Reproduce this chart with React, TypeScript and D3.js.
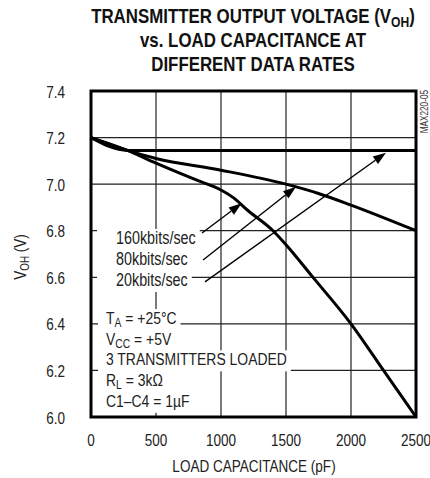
import { useEffect, useRef } from 'react';
import * as d3 from 'd3';

// axis ticks
const capTicks = [0, 500, 1000, 1500, 2000, 2500];
const voltTicks = [6.0, 6.2, 6.4, 6.6, 6.8, 7.0, 7.2, 7.4];

// curves (pF -> V)
const cap20 = [0, 280, 2500];
const voh20 = [7.2, 7.145, 7.145];
const cap80 = [0, 280, 500, 1000, 1500, 1750, 2000, 2500];
const voh80 = [7.2, 7.145, 7.11, 7.06, 7.0, 6.96, 6.91, 6.8];
const cap160 = [0, 280, 500, 800, 1000, 1100, 1200, 1400, 1500, 1700, 2000, 2250, 2500];
const voh160 = [7.2, 7.145, 7.09, 7.02, 6.975, 6.94, 6.89, 6.8, 6.74, 6.605, 6.4, 6.2, 6.0];

const rateLabels = ['160kbits/sec', '80kbits/sec', '20kbits/sec'];
// pointer arrows, label end -> curve, in data units
const arrowFrom: [number, number][] = [[854, 6.79], [862, 6.674], [877, 6.58]];
const arrowTo: [number, number][] = [[1159, 6.918], [1577, 6.989], [2269, 7.135]];

// condition lines: [text, subscript, rest]
const condLines: [string, string, string][] = [
  ['T', 'A', ' = +25°C'],
  ['V', 'CC', ' = +5V'],
  ['3 TRANSMITTERS LOADED', '', ''],
  ['R', 'L', ' = 3kΩ'],
  ['C1–C4 = 1µF', '', ''],
];

// Helvetica Narrow look: Arial-metric font squeezed horizontally
const FONT = '"Liberation Sans", Arial, Helvetica, sans-serif';
const NARROW = 0.82;

type Sel = d3.Selection<any, unknown, null, undefined>;

export default function App() {
  const svgRef = useRef<SVGSVGElement>(null);

  useEffect(() => {
    if (!svgRef.current) return;
    const svg = d3.select(svgRef.current);
    svg.selectAll('*').remove();
    const L = 91, R = 416, T = 91, B = 417;
    const x = d3.scaleLinear().domain([0, 2500]).range([L, R]);
    const y = d3.scaleLinear().domain([6.0, 7.4]).range([B, T]);

    const addText = (parent: Sel, ax: number, ay: number, size: number, anchor: string, sx = NARROW, rot = 0) => {
      const g = parent.append('g').attr('transform', `translate(${ax},${ay})${rot ? ` rotate(${rot})` : ''} scale(${sx},1)`);
      return g.append('text').attr('text-anchor', anchor).attr('font-family', FONT)
        .attr('font-size', size).attr('fill', '#222');
    };

    // title
    const t1 = addText(svg, 253, 22.5, 19.5, 'middle', 0.865).attr('font-weight', 'bold').attr('fill', '#111');
    t1.append('tspan').text('TRANSMITTER OUTPUT VOLTAGE (V');
    t1.append('tspan').attr('font-size', 14).attr('dy', 4).text('OH');
    t1.append('tspan').attr('dy', -4).text(')');
    addText(svg, 253, 47, 19.5, 'middle', 0.865).attr('font-weight', 'bold').attr('fill', '#111')
      .text('vs. LOAD CAPACITANCE AT');
    addText(svg, 253, 71, 19.5, 'middle', 0.865).attr('font-weight', 'bold').attr('fill', '#111')
      .text('DIFFERENT DATA RATES');

    // grid
    const grid = svg.append('g').attr('stroke', '#222').attr('stroke-width', 1.2);
    grid.selectAll('line.v').data(capTicks.slice(1, -1)).enter().append('line')
      .attr('x1', d => x(d)).attr('x2', d => x(d)).attr('y1', T).attr('y2', B);
    grid.selectAll('line.h').data(voltTicks.slice(1, -1)).enter().append('line')
      .attr('y1', d => y(d)).attr('y2', d => y(d)).attr('x1', L).attr('x2', R);

    // tick labels
    const yl = svg.append('g');
    voltTicks.forEach(d => addText(yl, 65, y(d) + 6.5, 16.5, 'end').text(d.toFixed(1)));
    const xl = svg.append('g');
    capTicks.forEach(d => addText(xl, x(d), 446, 16.5, 'middle').text(String(d)));

    // axis titles
    addText(svg, 254, 472, 16.5, 'middle').text('LOAD CAPACITANCE (pF)');
    const yt = addText(svg, 26, 257, 16.5, 'middle', NARROW, -90);
    yt.append('tspan').text('V');
    yt.append('tspan').attr('font-size', 12).attr('dy', 3).text('OH');
    yt.append('tspan').attr('dy', -3).text(' (V)');

    addText(svg, 428, 90, 10, 'end', NARROW, -90).attr('fill', '#333').text('MAX220-05');

    // annotation text with white boxes behind each line
    const notes = svg.append('g');
    const addLine = (bx: number, base: number, size: number, parts: [string, string, string], left: number) => {
      const bg = notes.append('rect').attr('fill', '#fff');
      const t = addText(notes, bx, base, size, 'start');
      t.append('tspan').text(parts[0]);
      if (parts[1]) t.append('tspan').attr('font-size', size * 0.74).attr('dy', 3).text(parts[1]);
      if (parts[2]) t.append('tspan').attr('dy', parts[1] ? -3 : 0).text(parts[2]);
      const bb = (t.node() as SVGTextElement).getBBox();
      const right = bx + (bb.x + bb.width) * NARROW + 4;
      bg.attr('x', left).attr('y', base - 15).attr('width', right - left).attr('height', 21);
    };
    rateLabels.forEach((s, i) => addLine(116, 244 + i * 21, 17.5, [s, '', ''], 97));
    condLines.forEach((p, i) => addLine(106, 324 + i * 20.7, 17, p, 98));

    // curves
    const line = d3.line<[number, number]>().x(d => x(d[0])).y(d => y(d[1])).curve(d3.curveMonotoneX);
    const series: [number[], number[]][] = [[cap20, voh20], [cap80, voh80], [cap160, voh160]];
    svg.append('g').selectAll('path').data(series).enter().append('path')
      .attr('d', ([c, v]) => line(c.map((d, i) => [d, v[i]] as [number, number])))
      .attr('fill', 'none').attr('stroke', '#000').attr('stroke-width', 3).attr('stroke-linejoin', 'round');

    // arrows
    const ag = svg.append('g');
    arrowFrom.forEach((f, i) => {
      const x0 = x(f[0]), y0 = y(f[1]), x1 = x(arrowTo[i][0]), y1 = y(arrowTo[i][1]);
      const ang = Math.atan2(y1 - y0, x1 - x0);
      const hl = 13, hw = 4.5;
      const bx = x1 - hl * Math.cos(ang), by = y1 - hl * Math.sin(ang);
      ag.append('line').attr('x1', x0).attr('y1', y0).attr('x2', bx).attr('y2', by)
        .attr('stroke', '#000').attr('stroke-width', 1.4);
      const px = -Math.sin(ang) * hw, py = Math.cos(ang) * hw;
      ag.append('path').attr('d', `M${x1},${y1}L${bx + px},${by + py}L${bx - px},${by - py}Z`).attr('fill', '#000');
    });

    // frame
    svg.append('rect').attr('x', L).attr('y', T).attr('width', R - L).attr('height', B - T)
      .attr('fill', 'none').attr('stroke', '#000').attr('stroke-width', 3);
  }, []);

  return (
    <svg ref={svgRef} width={430} height={478}
      style={{ position: 'absolute', left: 0, top: 0, background: '#fff' }} />
  );
}
